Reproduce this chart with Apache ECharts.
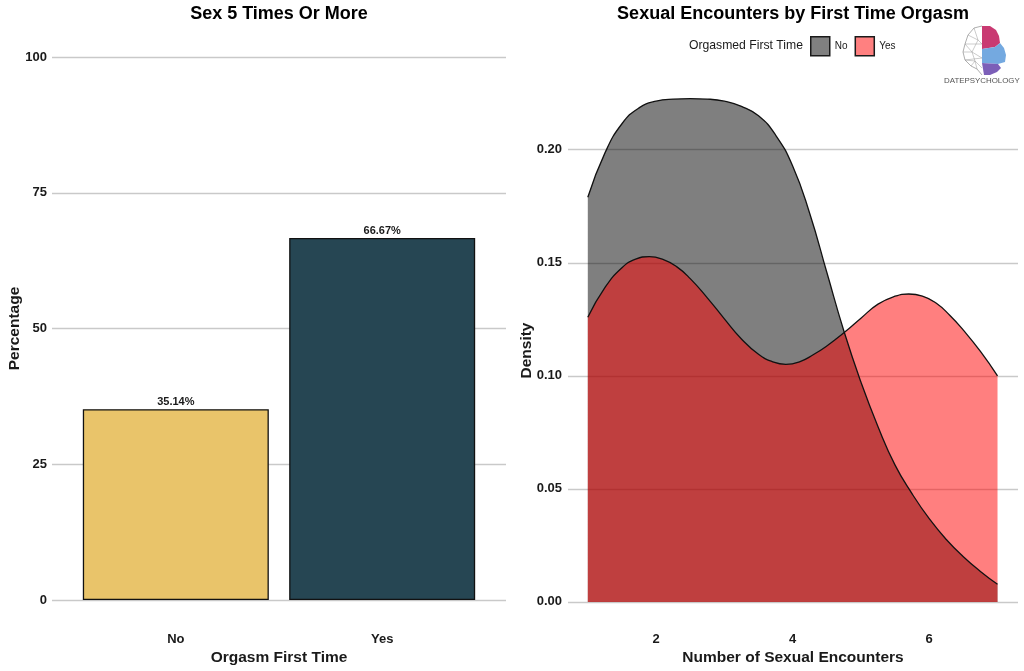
<!DOCTYPE html>
<html>
<head>
<meta charset="utf-8">
<style>html,body{margin:0;padding:0;background:#fff}#c{width:1024px;height:671px}</style>
<script src="https://cdn.jsdelivr.net/npm/echarts@6/dist/echarts.min.js"></script>
</head>
<body>
<div id="c"></div>
<script>
const barCategories = ['No', 'Yes'];
const barPositions = [1, 2];
const barValues = [35.14, 66.67];
const barColors = ['#E9C46A', '#264653'];
const percentTicks = [0, 25, 50, 75, 100];
const densityYTicks = [0, 0.05, 0.10, 0.15, 0.20];
const densityXTicks = [2, 4, 6];
const noX = [1,1.25,1.5,1.75,2,2.25,2.5,2.75,3,3.25,3.5,3.75,4,4.25,4.5,4.75,5,5.25,5.5,5.75,6,6.25,6.5,6.75,7];
const densityNo = [.1790,.1985,.2115,.2185,.2215,.2224,.2226,.2224,.2215,.2192,.2150,.2065,.1928,.1718,.1458,.1198,.0972,.0775,.0605,.0478,.0368,.0276,.0200,.0135,.0078];
const yesX = [1,1.25,1.5,1.7,1.9,2.1,2.3,2.5,2.75,3,3.25,3.5,3.7,3.9,4.1,4.3,4.5,4.75,5,5.25,5.5,5.7,5.9,6.1,6.3,6.5,6.75,7];
const densityYes = [.1259,.1390,.1478,.1516,.1527,.1515,.1483,.1430,.1345,.1252,.1163,.1095,.1063,.1051,.1062,.1093,.1132,.1190,.1255,.1317,.1352,.1362,.1353,.1322,.1268,.1202,.1108,.1000];

const FONT = '"Liberation Sans", Arial, sans-serif';
const INK = '#1a1a1a';
const GRID = '#c9c9c9';
const tick = {fontFamily: FONT, fontWeight: 'bold', fontSize: 13, color: INK};
const axisName = {fontFamily: FONT, fontWeight: 'bold', fontSize: 15.5, color: INK};
const wire = [[982,26],[974,28],[968,35],[965,44],[963,52],[965,60],[971,66],[977,69],[982,75]];
const wireInner = [[[974,28],[978,40],[968,35]],[[978,40],[982,44],[965,44],[972,52],[963,52]],[[972,52],[982,58],[965,60],[975,61],[982,68]],[[978,40],[972,52],[975,61],[971,66]],[[975,61],[977,69]]];

const chart = echarts.init(document.getElementById('c'), null, {renderer: 'canvas'});
chart.setOption({
  animation: false,
  backgroundColor: '#fff',
  title: [
    {text: 'Sex 5 Times Or More', left: 279, top: 5, padding: 0, textAlign: 'center', textStyle: {fontFamily: FONT, fontWeight: 'bold', fontSize: 18, color: '#000'}},
    {text: 'Sexual Encounters by First Time Orgasm', left: 793, top: 5, padding: 0, textAlign: 'center', textStyle: {fontFamily: FONT, fontWeight: 'bold', fontSize: 18, color: '#000'}}
  ],
  legend: {
    left: 810, top: 36, padding: 0, itemWidth: 19, itemHeight: 19, itemGap: 7, icon: 'rect',
    selectedMode: false,
    textStyle: {fontFamily: FONT, fontSize: 10, color: INK},
    data: [
      {name: 'No', itemStyle: {color: '#808080', borderColor: '#1a1a1a', borderWidth: 1.5}},
      {name: 'Yes', itemStyle: {color: '#ff8080', borderColor: '#1a1a1a', borderWidth: 1.5}}
    ]
  },
  grid: [
    {left: 52, right: 518, top: 57, bottom: 71, outerBoundsMode: 'none'},
    {left: 568, right: 6, top: 74, bottom: 44, outerBoundsMode: 'none'}
  ],
  xAxis: [
    {gridIndex: 0, type: 'value', min: 0.4, max: 2.6,
      name: 'Orgasm First Time', nameLocation: 'middle', nameGap: 50, nameMoveOverlap: false, nameTextStyle: axisName,
      axisLine: {show: false}, splitLine: {show: false},
      axisTick: {show: false, customValues: barPositions},
      axisLabel: Object.assign({}, tick, {margin: 33, customValues: barPositions, formatter: v => barCategories[barPositions.indexOf(v)]})},
    {gridIndex: 1, type: 'value', min: 0.71, max: 7.3,
      name: 'Number of Sexual Encounters', nameLocation: 'middle', nameGap: 23, nameMoveOverlap: false, nameTextStyle: axisName,
      axisLine: {show: false}, splitLine: {show: false},
      axisTick: {show: false, customValues: densityXTicks},
      axisLabel: Object.assign({}, tick, {margin: 6, customValues: densityXTicks})}
  ],
  yAxis: [
    {gridIndex: 0, type: 'value', min: 0, max: 100,
      name: 'Percentage', nameLocation: 'middle', nameGap: 29, nameMoveOverlap: false, nameTextStyle: axisName,
      axisLine: {show: false},
      axisTick: {show: false, customValues: percentTicks},
      splitLine: {show: true, lineStyle: {color: GRID, width: 1.3}},
      axisLabel: Object.assign({}, tick, {margin: 5, customValues: percentTicks})},
    {gridIndex: 1, type: 'value', min: -0.0111, max: 0.2335,
      name: 'Density', nameLocation: 'middle', nameGap: 33, nameMoveOverlap: false, nameTextStyle: axisName,
      axisLine: {show: false},
      axisTick: {show: false, customValues: densityYTicks},
      splitLine: {show: true, lineStyle: {color: GRID, width: 1.3}},
      axisLabel: Object.assign({}, tick, {margin: 6, customValues: densityYTicks, formatter: v => v.toFixed(2)})}
  ],
  series: [
    {type: 'bar', xAxisIndex: 0, yAxisIndex: 0, barWidth: 186,
      data: barValues.map((v, i) => ({value: [barPositions[i], v], itemStyle: {color: barColors[i], borderColor: '#111', borderWidth: 1.3}})),
      label: {show: true, position: 'top', distance: 2, fontFamily: FONT, fontWeight: 'bold', fontSize: 11, color: INK,
        formatter: p => p.value[1].toFixed(2) + '%'}},
    {type: 'line', name: 'No', xAxisIndex: 1, yAxisIndex: 1, data: noX.map((x, i) => [x, densityNo[i]]), smooth: 0.5, showSymbol: false, symbol: 'none', clip: false,
      lineStyle: {color: '#111', width: 1.3}, itemStyle: {color: '#808080'}, areaStyle: {color: '#000', opacity: 0.5}},
    {type: 'line', name: 'Yes', xAxisIndex: 1, yAxisIndex: 1, data: yesX.map((x, i) => [x, densityYes[i]]), smooth: 0.5, showSymbol: false, symbol: 'none', clip: false,
      lineStyle: {color: '#111', width: 1.3}, itemStyle: {color: '#ff8080'}, areaStyle: {color: '#ff0000', opacity: 0.5}}
  ],
  graphic: [
    {type: 'text', left: 689, top: 40, style: {text: 'Orgasmed First Time', fontFamily: FONT, fontSize: 12.2, fill: INK}},
    {type: 'polygon', shape: {points: [[982,26],[990,26],[996,30],[999,36],[1000,43],[995,47],[982,49]]}, style: {fill: '#c93a72'}},
    {type: 'polygon', shape: {points: [[982,49],[995,47],[1000,43],[1004,48],[1006,55],[1005,62],[998,64],[982,63]]}, style: {fill: '#74a9e0'}},
    {type: 'polygon', shape: {points: [[982,63],[998,64],[1001,68],[997,72],[990,75],[984,75]]}, style: {fill: '#7c5fb8'}},
    {type: 'polyline', shape: {points: wire}, style: {stroke: '#777', lineWidth: 0.6, fill: 'none'}},
    ...wireInner.map(p => ({type: 'polyline', shape: {points: p}, style: {stroke: '#999', lineWidth: 0.5, fill: 'none'}})),
    {type: 'text', left: 944, top: 77, style: {text: 'DATEPSYCHOLOGY', fontFamily: FONT, fontSize: 7.9, fill: '#555'}}
  ]
});
</script>
</body>
</html>
